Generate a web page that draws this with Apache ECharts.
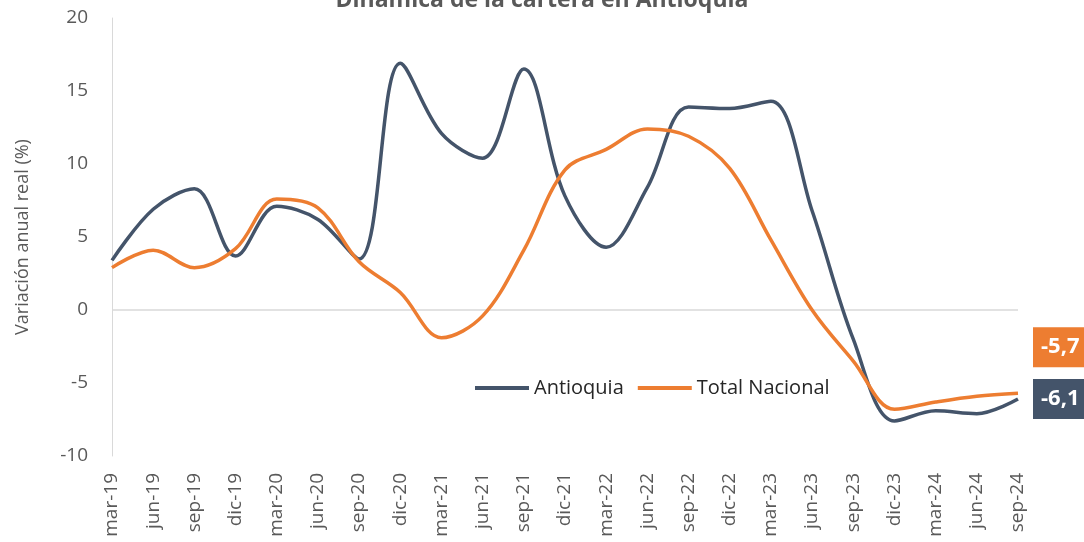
<!DOCTYPE html>
<html>
<head>
<meta charset="utf-8">
<script src="https://cdn.jsdelivr.net/npm/echarts@6/dist/echarts.min.js"></script>
<style>
html,body{margin:0;padding:0;background:#fff;}
#chart{width:1084px;height:542px;}
</style>
</head>
<body>
<div id="chart"></div>
<script>
const categories = ['mar-19','jun-19','sep-19','dic-19','mar-20','jun-20','sep-20','dic-20','mar-21','jun-21','sep-21','dic-21','mar-22','jun-22','sep-22','dic-22','mar-23','jun-23','sep-23','dic-23','mar-24','jun-24','sep-24'];
const antioquia = [3.4, 6.9, 8.3, 3.7, 7.1, 6.2, 3.5, 16.9, 12.1, 10.4, 16.5, 7.8, 4.3, 8.4, 13.9, 13.8, 14.3, 6.8, -2.0, -7.6, -6.9, -7.1, -6.1];
const totalNacional = [2.9, 4.1, 2.9, 4.2, 7.6, 7.0, 3.3, 1.2, -1.9, -0.4, 4.1, 9.6, 11.0, 12.4, 11.9, 9.7, 4.8, 0.0, -3.5, -6.8, -6.3, -5.9, -5.7];
const yTicks = {min: -10, max: 20, interval: 5};

const FONT = 'Open Sans';
const C_ANT = '#44546A';
const C_TOT = '#ED7D31';

function withEndLabel(arr, color, offsetY) {
  return arr.map((v, i) => {
    if (i !== arr.length - 1) return v;
    return {
      value: v,
      label: {
        show: true,
        position: 'right',
        distance: 15,
        offset: [0, offsetY],
        formatter: p => p.value.toFixed(1).replace('.', ','),
        backgroundColor: color,
        color: '#ffffff',
        fontFamily: FONT,
        fontWeight: 'bold',
        fontSize: 22,
        lineHeight: 24,
        padding: [8, 8, 8, 8]
      }
    };
  });
}

const chart = echarts.init(document.getElementById('chart'), null, {renderer: 'canvas'});
chart.setOption({
  animation: false,
  title: {
    text: 'Dinámica de la cartera en Antioquia',
    left: 'center',
    top: -16,
    textStyle: {fontFamily: FONT, fontWeight: 'bold', fontSize: 23, color: '#595959'}
  },
  legend: {
    left: 470,
    top: 373,
    icon: 'rect',
    itemWidth: 54,
    itemHeight: 4,
    itemGap: 14,
    textStyle: {fontFamily: FONT, fontSize: 20, color: '#262626'},
    data: ['Antioquia', 'Total Nacional']
  },
  grid: {left: 112, right: 66, top: 18, bottom: 86, containLabel: false},
  xAxis: {
    type: 'category',
    data: categories,
    boundaryGap: false,
    axisLine: {show: false, onZero: false},
    axisTick: {show: false},
    splitLine: {show: false},
    axisLabel: {rotate: 90, interval: 0, margin: 17, fontFamily: FONT, fontSize: 19, color: '#595959'}
  },
  yAxis: {
    type: 'value',
    min: yTicks.min,
    max: yTicks.max,
    interval: yTicks.interval,
    name: 'Variación anual real (%)',
    nameLocation: 'middle',
    nameGap: 80,
    nameTextStyle: {fontFamily: FONT, fontSize: 18, color: '#595959'},
    axisLine: {show: true, lineStyle: {color: '#d9d9d9', width: 1}},
    axisTick: {show: false},
    splitLine: {show: false},
    axisLabel: {margin: 24, fontFamily: FONT, fontSize: 19, color: '#595959'}
  },
  series: [
    {
      name: 'Antioquia',
      type: 'line',
      data: withEndLabel(antioquia, C_ANT, 0),
      smooth: 0.35,
      symbol: 'circle',
      symbolSize: 0,
      showSymbol: true,
      z: 3,
      lineStyle: {color: C_ANT, width: 3.5},
      itemStyle: {color: C_ANT},
      markLine: {
        silent: true,
        symbol: 'none',
        label: {show: false},
        lineStyle: {color: '#d9d9d9', width: 1.5, type: 'solid'},
        data: [{yAxis: 0}],
        z: 1
      }
    },
    {
      name: 'Total Nacional',
      type: 'line',
      data: withEndLabel(totalNacional, C_TOT, -46),
      smooth: 0.35,
      symbol: 'circle',
      symbolSize: 0,
      showSymbol: true,
      z: 4,
      lineStyle: {color: C_TOT, width: 3.5},
      itemStyle: {color: C_TOT}
    }
  ]
});
</script>
</body>
</html>
